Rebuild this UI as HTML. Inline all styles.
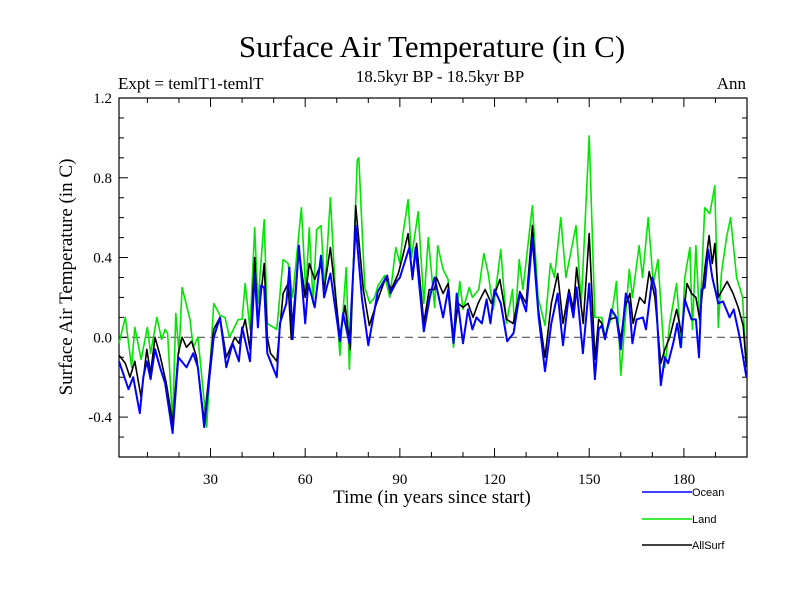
<!DOCTYPE html>
<html><head><meta charset="utf-8"><style>
body{margin:0;background:#fff;}
svg{display:block;font-family:"Liberation Serif",serif;}
</style></head><body>
<svg id="chart" width="800" height="600" viewBox="0 0 800 600" xmlns="http://www.w3.org/2000/svg">
<rect width="800" height="600" fill="#fff"/>
<text x="432" y="57" font-size="31" text-anchor="middle">Surface Air Temperature (in C)</text>
<text x="118" y="89" font-size="17">Expt = temlT1-temlT</text>
<text x="440" y="82" font-size="17" text-anchor="middle">18.5kyr BP - 18.5kyr BP</text>
<text x="746" y="89" font-size="17" text-anchor="end">Ann</text>
<text transform="translate(72,277) rotate(-90)" font-size="19" text-anchor="middle">Surface Air Temperature (in C)</text>
<text x="432" y="503" font-size="19" text-anchor="middle">Time (in years since start)</text>
<g id="axes"></g>
<g id="series"></g>
<g id="legend"></g>
</svg>
<script>
const oceanYears=[1,4,5.5,7.6,8.7,9.8,11,12.4,14,15.6,18,19.8,22.4,24.5,26,28,31,33,35,37,39,40,42.5,44,45,46,47,48,51,52,54,55,56,58,60,61,63,65,66,68,71,72,74,76,78,80,83,86,87,89,90,93,94,95,97.6,99.5,101,103.7,105.3,107,108,110,111.6,113,114.3,116,117.5,118.7,120,122,124,126,128,130,132,134,136,138,140,141.7,143.6,145,146,148,150,151.8,153,154,155,157,158.6,160,161.6,162.7,163.7,165,167,168,170,171,172.7,174,175,176.6,177.9,179,180.3,182.4,183.8,184.8,185.6,186.6,187.7,189,190.9,192.4,194.5,195.8,197.7,199.8];
const oceanVals=[-0.12,-0.26,-0.2,-0.38,-0.2,-0.12,-0.21,-0.06,-0.15,-0.23,-0.48,-0.1,-0.15,-0.08,-0.15,-0.45,0,0.1,-0.15,-0.03,-0.12,0.05,-0.12,0.32,0.05,0.26,0.25,-0.08,-0.2,0.07,0.17,0.35,-0.01,0.46,0.07,0.27,0.15,0.41,0.2,0.32,-0.02,0.12,-0.03,0.56,0.19,-0.04,0.23,0.31,0.22,0.28,0.3,0.45,0.3,0.45,0.03,0.2,0.3,0.1,0.24,-0.03,0.22,-0.03,0.14,0.04,0.1,0.07,0.19,0.07,0.24,0.17,-0.02,0.02,0.22,0.13,0.5,0.1,-0.17,0.07,0.22,-0.04,0.22,0.1,0.25,-0.08,0.27,-0.21,0.04,0.06,-0.01,0.14,0.1,-0.06,0.22,0.17,-0.03,0.09,0.1,0.04,0.3,0.24,-0.24,-0.1,-0.13,-0.03,0.07,-0.05,0.19,0.09,0.09,-0.1,0.24,0.25,0.44,0.3,0.17,0.18,0.1,0.14,0,-0.2];
const landYears=[1,3,5,6,8,10,11,13,14.5,15.6,16.4,18,19,20,21,23.5,24.5,26,28.8,31,33,34.6,36,38.8,40,41,42.5,44,45,47,48,51,53,54.6,56,58.8,60.2,61.3,62.5,63.6,65,66.2,68,69.4,71,73,74,76.5,77,78.9,80.5,82,83.1,85.2,86.8,88.7,90,91,92.6,93.7,95.8,97.6,99,101,102,103.7,105.3,107,109,110,112,113,115,116.6,118,119.6,122,123.8,125.7,126.4,127.8,129,130,132,133.8,136,137.7,139,141,142.6,145.8,147.5,150,151.8,154,155,157,158.6,160,161.3,162.7,163.7,165.8,166.9,168.7,170.3,171.8,174,175.5,177.7,179.2,180.3,181.9,182.7,183.8,185,186.6,188.2,189.8,190.9,191.9,193.5,194.8,196.7,198.6,199.8];
const landVals=[-0.03,0.1,-0.15,0.05,-0.11,0.05,-0.08,0.1,-0.01,0.04,0.02,-0.43,0.12,-0.08,0.25,0.09,-0.05,0,-0.45,0.17,0.11,0.1,0,0.09,0.09,0.27,0.04,0.55,0.17,0.59,0.07,0.04,0.39,0.37,0.2,0.65,0.22,0.55,0.17,0.54,0.56,0.24,0.7,0.27,-0.09,0.35,-0.16,0.89,0.9,0.25,0.17,0.2,0.26,0.31,0.2,0.45,0.37,0.52,0.69,0.4,0.63,0.17,0.5,0.15,0.46,0.34,0.29,-0.05,0.28,0.14,0.25,0.2,0.24,0.42,0.32,0.14,0.44,0.07,0.24,0.04,0.39,0.24,0.38,0.66,0.2,0.06,0.37,0.3,0.6,0.3,0.56,0.17,1.01,0.1,0.1,0,0.1,0.28,-0.19,0.07,0.34,0.2,0.46,0.3,0.6,0.27,0.39,-0.15,0.07,0.27,-0.05,0.3,0.45,0.04,0.46,0.07,0.65,0.62,0.76,0.05,0.32,0.5,0.6,0.3,0.2,-0.15];
const allYears=[1,3,4.5,6,8,9.8,11,12.4,14,16,18,19.8,21,22.4,24,25.6,28,31,33,35,37.7,39,41,42.5,44,45,47,48,49,51,53,54.6,55.6,58,60,61.3,63,65,66,68,69.4,71,72.6,74.3,76,78.4,80.3,82.6,85.5,87.3,89.5,90.8,92.6,94,95.3,97.6,99.3,101,101.6,103.7,105.3,107,108.5,110,111.6,113.2,114.8,117,119,121.7,123.8,125.9,128,130,132,133.8,136,138,140,141.7,143.6,145,146,148.1,150,151.8,153,154,155,156.5,158.6,160,161.3,162.9,163.9,166,167.6,169,170.8,172.7,174,175.5,177.7,179.2,181,182.4,183.8,185,186.6,188,189,189.8,190.9,193.7,195.6,197.2,198.8,199.8];
const allVals=[-0.09,-0.13,-0.2,-0.12,-0.3,-0.06,-0.18,0,-0.09,-0.23,-0.43,-0.08,0,-0.05,-0.02,-0.1,-0.42,0.04,0.1,-0.1,0,-0.03,0.09,-0.06,0.4,0.07,0.37,0,-0.08,-0.12,0.22,0.27,-0.01,0.44,0.2,0.37,0.29,0.37,0.24,0.45,0.24,0,0.16,-0.06,0.66,0.24,0.06,0.17,0.3,0.24,0.32,0.4,0.52,0.29,0.47,0.07,0.24,0.24,0.3,0.22,0.27,-0.01,0.17,0.15,0.17,0.1,0.17,0.24,0.17,0.29,0.09,0.07,0.23,0.17,0.56,0.15,-0.1,0.17,0.32,0.07,0.24,0.14,0.35,0.07,0.52,-0.11,0.09,0.07,0,0.09,0.1,-0.01,0.15,0.22,0.07,0.2,0.17,0.33,0.2,-0.13,-0.06,0,0.14,0.02,0.27,0.22,0.2,0.09,0.34,0.51,0.37,0.47,0.2,0.28,0.22,0.15,0.06,-0.15];
const xTicks=[30,60,90,120,150,180];
const yTicks=[-0.4,0,0.4,0.8,1.2];
const yTickLabels=["-0.4","0.0","0.4","0.8","1.2"];
const seriesNames=["Ocean","Land","AllSurf"];

const L=119,R=747,T=98,B=457,XMIN=1,XMAX=200,YMIN=-0.6,YMAX=1.2;
const NS="http://www.w3.org/2000/svg";
function xs(t){return L+(t-XMIN)/(XMAX-XMIN)*(R-L);}
function ys(v){return B-(v-YMIN)/(YMAX-YMIN)*(B-T);}
function mk(tag,attrs,parent){const e=document.createElementNS(NS,tag);for(const k in attrs)e.setAttribute(k,attrs[k]);parent.appendChild(e);return e;}
const axes=document.getElementById('axes');
// zero line
const z=mk('line',{x1:L,x2:R,y1:ys(0),y2:ys(0),stroke:'#555','stroke-width':1.2,'stroke-dasharray':'8,5'},axes);


// minor/major ticks
for(let t=10;t<=200;t+=10){
  const major=t%30===0,len=major?9:5,x=xs(t);
  const a=mk('line',{x1:x,x2:x,y1:B,y2:B-len,stroke:'#000','stroke-width':1},axes);
  
  
  const b=mk('line',{x1:x,x2:x,y1:T,y2:T+len,stroke:'#000','stroke-width':1},axes);
  
  
}
for(let i=-6;i<=12;i++){
  const v=i/10,major=(i%4===0),len=major?9:5,y=ys(v);
  const a=mk('line',{x1:L,x2:L+len,y1:y,y2:y,stroke:'#000','stroke-width':1},axes);
  
  
  const b=mk('line',{x1:R,x2:R-len,y1:y,y2:y,stroke:'#000','stroke-width':1},axes);
  
  
}
xTicks.forEach(t=>{
  const e=mk('text',{x:xs(t),y:484,'font-size':15,'text-anchor':'middle'},axes);
  e.textContent=t;
  
  
});
yTicks.forEach((v,i)=>{
  const e=mk('text',{x:L-7,y:ys(v)+5,'font-size':15,'text-anchor':'end'},axes);
  e.textContent=yTickLabels[i];
  
  
});
const fr=mk('rect',{x:L,y:T,width:R-L,height:B-T,fill:'none',stroke:'#000','stroke-width':1.2},axes);



const ser=document.getElementById('series');
const defs=[[landYears,landVals,'#00e600',1.6,'land-line'],[allYears,allVals,'#000',1.6,'allsurf-line'],[oceanYears,oceanVals,'#0000ff',2,'ocean-line']];
defs.forEach(d=>{
  const pts=d[0].map((t,i)=>xs(t).toFixed(1)+','+ys(d[1][i]).toFixed(1)).join(' ');
  const p=mk('polyline',{points:pts,fill:'none',stroke:d[2],'stroke-width':d[3],'stroke-linejoin':'round'},ser);
  
  
});
const leg=document.getElementById('legend');
const legColors=['#0000ff','#00e600','#000'];
const legY=[492,519,545];
seriesNames.forEach((n,i)=>{
  const g=mk('g',{},leg);
  
  
  mk('line',{x1:642,x2:692,y1:legY[i],y2:legY[i],stroke:legColors[i],'stroke-width':1.5},g);
  const t=mk('text',{x:692,y:legY[i]+4,'font-size':11,'font-family':'Liberation Sans, sans-serif'},g);
  t.textContent=n;
});
</script>
</body></html>
